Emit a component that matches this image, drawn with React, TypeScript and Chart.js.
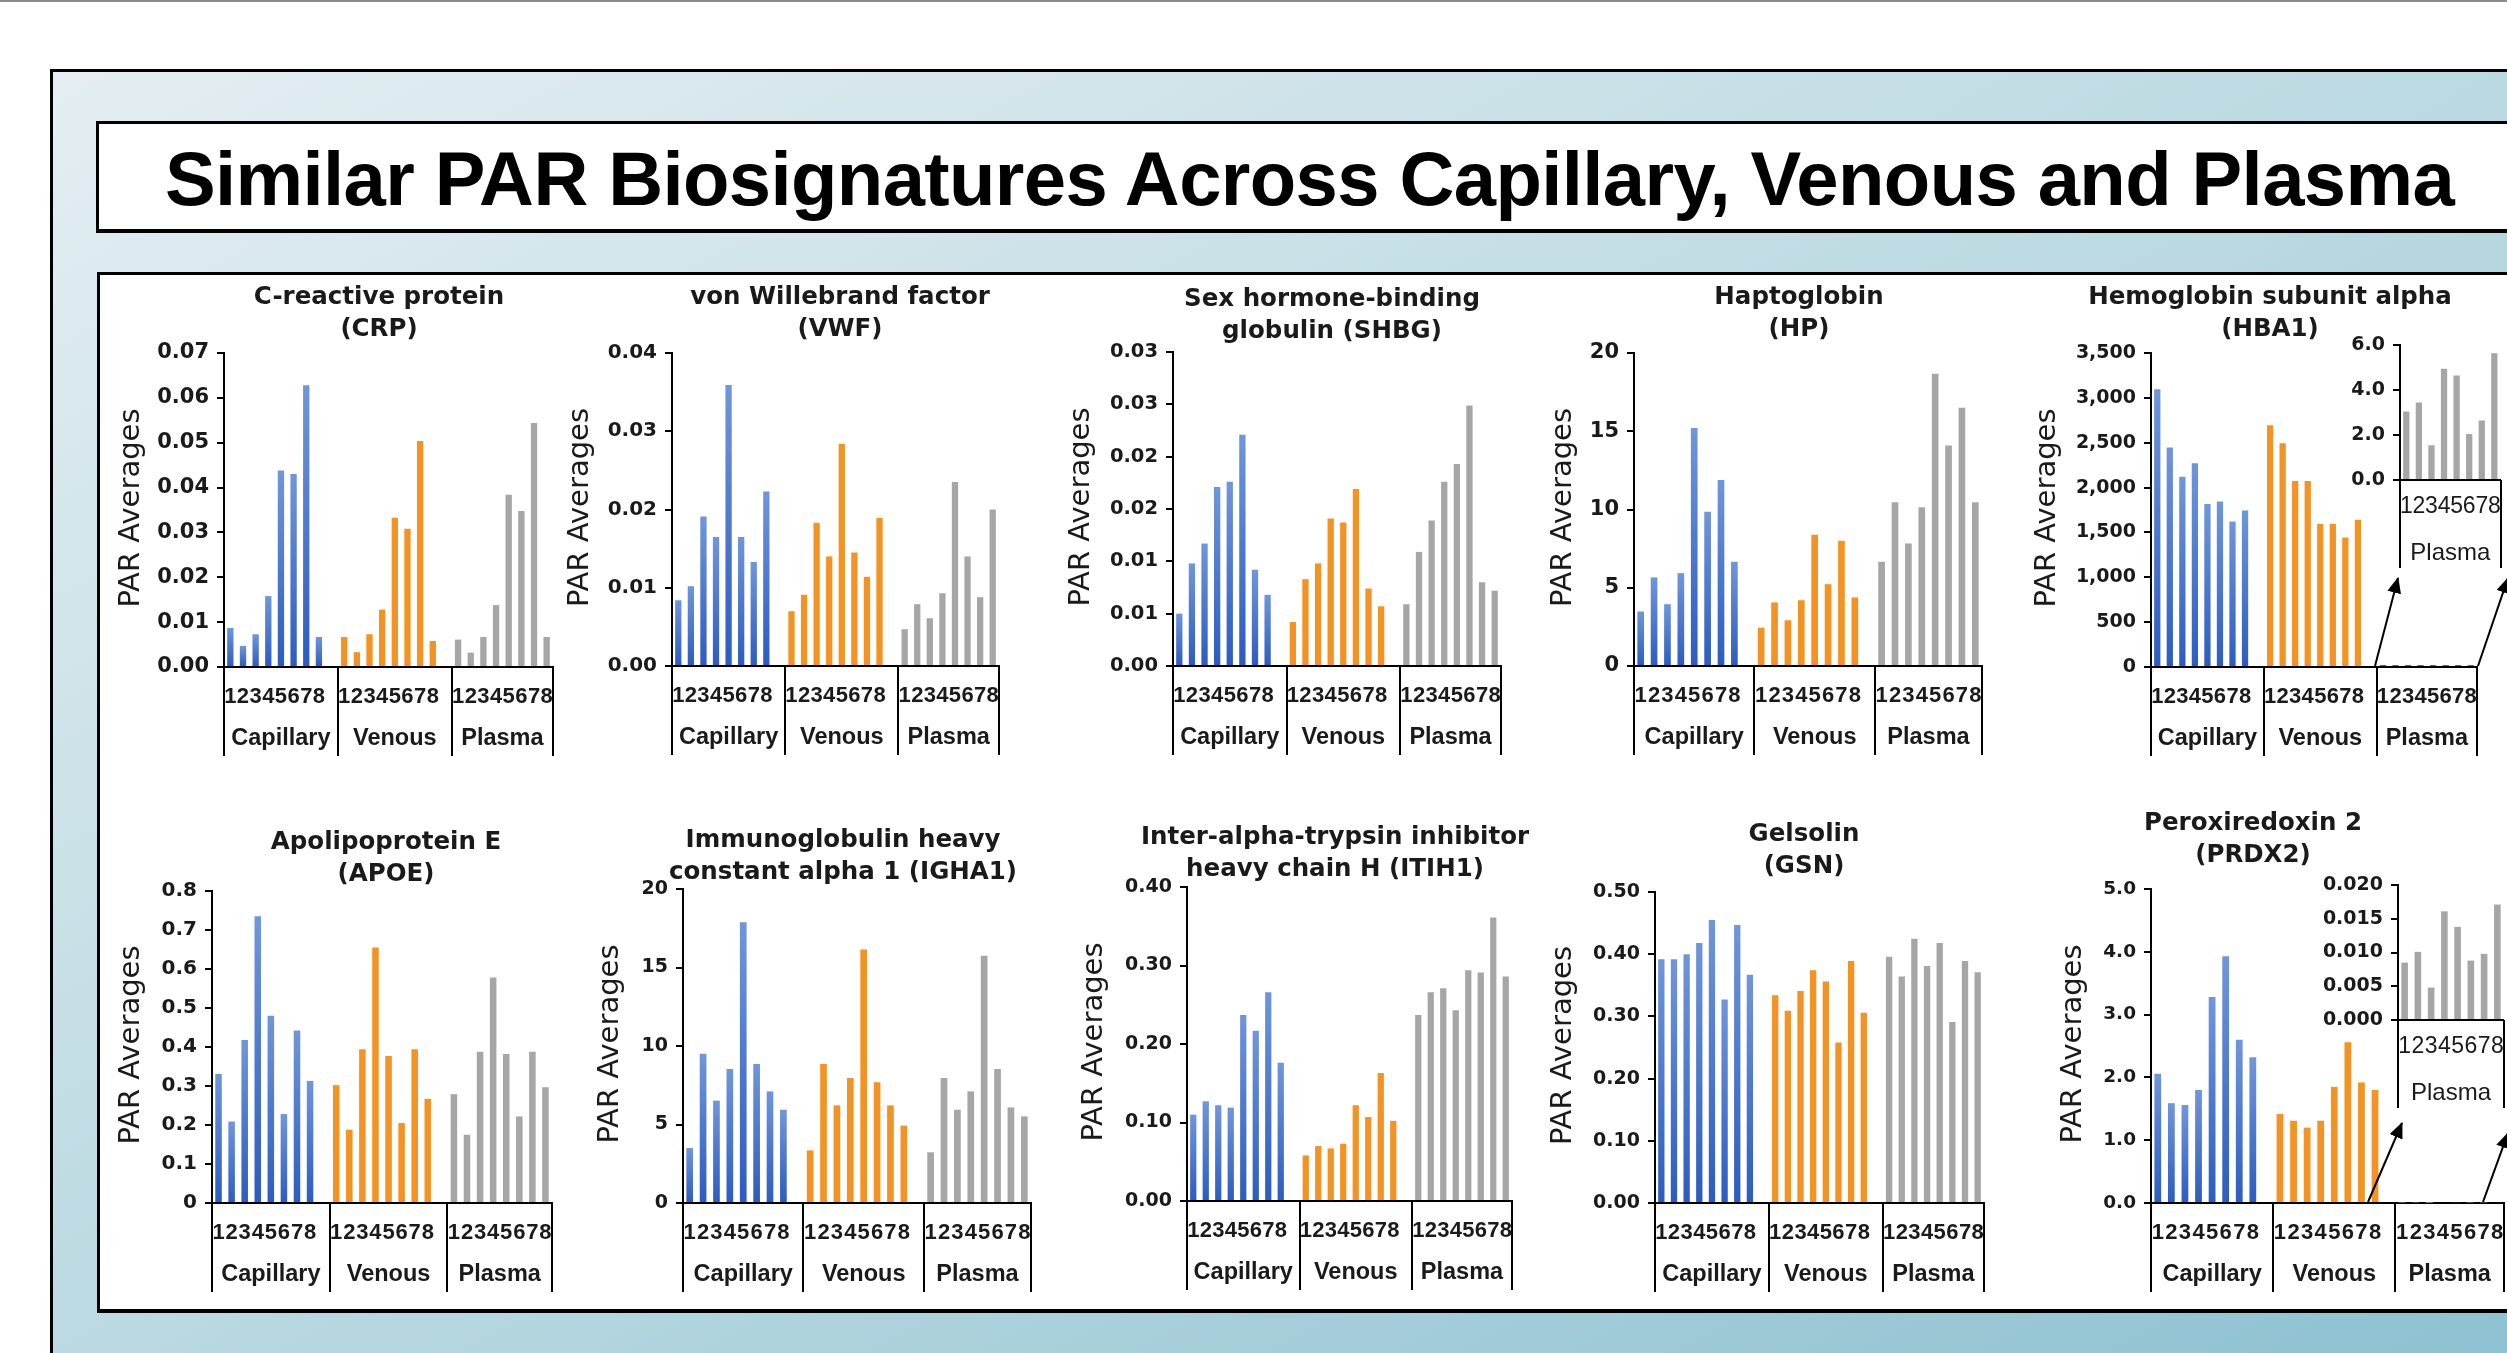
import React, { useEffect, useRef } from 'react';
import { Chart, registerables } from 'chart.js';

Chart.register(...registerables);

// ---------- data ----------
const GROUPS = ['Capillary', 'Venous', 'Plasma'];
const SAMPLES = ['1', '2', '3', '4', '5', '6', '7', '8'];

const CRP_CAPILLARY = [0.0087, 0.0047, 0.0073, 0.0158, 0.0438, 0.043, 0.0628, 0.0067];
const CRP_VENOUS = [0.0067, 0.0033, 0.0073, 0.0128, 0.0333, 0.0308, 0.0504, 0.0058];
const CRP_PLASMA = [0.0061, 0.0032, 0.0067, 0.0138, 0.0384, 0.0348, 0.0544, 0.0067];
const CRP_Y_TICKS = ['0.00', '0.01', '0.02', '0.03', '0.04', '0.05', '0.06', '0.07'];

const VWF_CAPILLARY = [0.0084, 0.0102, 0.0191, 0.0165, 0.0359, 0.0165, 0.0133, 0.0223];
const VWF_VENOUS = [0.007, 0.0091, 0.0183, 0.014, 0.0284, 0.0145, 0.0114, 0.0189];
const VWF_PLASMA = [0.0047, 0.0079, 0.0061, 0.0093, 0.0235, 0.014, 0.0088, 0.02];
const VWF_Y_TICKS = ['0.00', '0.01', '0.02', '0.03', '0.04'];

const SHBG_CAPILLARY = [0.005, 0.0098, 0.0117, 0.0171, 0.0176, 0.0221, 0.0092, 0.0068];
const SHBG_VENOUS = [0.0042, 0.0083, 0.0098, 0.0141, 0.0137, 0.0169, 0.0074, 0.0057];
const SHBG_PLASMA = [0.0059, 0.0109, 0.0139, 0.0176, 0.0193, 0.0249, 0.008, 0.0072];
const SHBG_Y_TICKS = ['0.00', '0.01', '0.01', '0.02', '0.02', '0.03', '0.03'];

const HP_CAPILLARY = [3.48, 5.66, 3.95, 5.93, 15.2, 9.86, 11.89, 6.66];
const HP_VENOUS = [2.45, 4.06, 2.92, 4.2, 8.39, 5.23, 8.0, 4.38];
const HP_PLASMA = [6.66, 10.46, 7.83, 10.14, 18.68, 14.09, 16.5, 10.46];
const HP_Y_TICKS = ['0', '5', '10', '15', '20'];

const HBA1_CAPILLARY = [3096, 2448, 2122, 2270, 1818, 1844, 1622, 1744];
const HBA1_VENOUS = [2696, 2493, 2074, 2074, 1593, 1593, 1444, 1641];
const HBA1_PLASMA = [3.05, 3.44, 1.55, 4.94, 4.65, 2.04, 2.64, 5.63];
const HBA1_Y_TICKS = ['0', '500', '1,000', '1,500', '2,000', '2,500', '3,000', '3,500'];
const HBA1_INSET_Y_TICKS = ['0.0', '2.0', '4.0', '6.0'];

const APOE_CAPILLARY = [0.331, 0.209, 0.418, 0.735, 0.48, 0.228, 0.442, 0.313];
const APOE_VENOUS = [0.302, 0.188, 0.394, 0.655, 0.377, 0.205, 0.394, 0.267];
const APOE_PLASMA = [0.279, 0.175, 0.388, 0.578, 0.382, 0.222, 0.388, 0.297];
const APOE_Y_TICKS = ['0', '0.1', '0.2', '0.3', '0.4', '0.5', '0.6', '0.7', '0.8'];

const IGHA1_CAPILLARY = [3.5, 9.51, 6.52, 8.54, 17.88, 8.85, 7.11, 5.94];
const IGHA1_VENOUS = [3.35, 8.85, 6.22, 7.96, 16.14, 7.69, 6.22, 4.93];
const IGHA1_PLASMA = [3.23, 7.96, 5.94, 7.11, 15.75, 8.54, 6.09, 5.52];
const IGHA1_Y_TICKS = ['0', '5', '10', '15', '20'];

const ITIH1_CAPILLARY = [0.11, 0.127, 0.122, 0.119, 0.237, 0.217, 0.266, 0.176];
const ITIH1_VENOUS = [0.058, 0.07, 0.067, 0.073, 0.122, 0.107, 0.163, 0.102];
const ITIH1_PLASMA = [0.237, 0.266, 0.271, 0.243, 0.294, 0.291, 0.361, 0.286];
const ITIH1_Y_TICKS = ['0.00', '0.10', '0.20', '0.30', '0.40'];

const GSN_CAPILLARY = [0.392, 0.392, 0.4, 0.418, 0.455, 0.327, 0.447, 0.367];
const GSN_VENOUS = [0.334, 0.309, 0.341, 0.374, 0.356, 0.258, 0.389, 0.306];
const GSN_PLASMA = [0.396, 0.364, 0.425, 0.381, 0.418, 0.291, 0.389, 0.371];
const GSN_Y_TICKS = ['0.00', '0.10', '0.20', '0.30', '0.40', '0.50'];

const PRDX2_CAPILLARY = [2.06, 1.59, 1.56, 1.8, 3.28, 3.93, 2.6, 2.32];
const PRDX2_VENOUS = [1.42, 1.31, 1.2, 1.31, 1.85, 2.56, 1.92, 1.8];
const PRDX2_PLASMA = [0.0085, 0.0101, 0.0048, 0.0161, 0.0138, 0.0088, 0.0098, 0.0171];
const PRDX2_Y_TICKS = ['0.0', '1.0', '2.0', '3.0', '4.0', '5.0'];
const PRDX2_INSET_Y_TICKS = ['0.000', '0.005', '0.010', '0.015', '0.020'];

const MAIN_TITLE = 'Similar PAR Biosignatures Across Capillary, Venous and Plasma';
const Y_TITLE = 'PAR Averages';

// ---------- styles ----------
const TEXT = '#1a1a1a';
const ORANGE = '#f39323';
const GRAY = '#a6a6a6';
const BLUE_TOP = '#7096da';
const BLUE_BOTTOM = '#2c5cbf';
const SANS = '"Liberation Sans", Arial, sans-serif';
const WIDE = '"DejaVu Sans", Verdana, sans-serif';

// category layout: 8 capillary + gap, 8 venous + gap, 8 plasma
const CATEGORIES = [...SAMPLES, '', ...SAMPLES, '', ...SAMPLES];
const GROUP_OFFSETS = [0, 9, 18];
const GROUP_SPANS: [number, number][] = [[0, 8], [9, 17], [18, 25]];

function place(values: number[], offset: number, total: number) {
  const out: (number | null)[] = new Array(total).fill(null);
  values.forEach((v, i) => { out[offset + i] = v; });
  return out;
}

function blueFill(ctx: any) {
  const chart = ctx.chart;
  const ys = chart.scales && chart.scales.y;
  if (!ys || !ctx.parsed || ctx.parsed.y == null) return BLUE_BOTTOM;
  const top = ys.getPixelForValue(ctx.parsed.y);
  const bot = ys.getPixelForValue(0);
  if (!isFinite(top) || !isFinite(bot) || Math.abs(bot - top) < 1) return BLUE_BOTTOM;
  const g = chart.ctx.createLinearGradient(0, bot, 0, top);
  g.addColorStop(0, BLUE_BOTTOM);
  g.addColorStop(1, BLUE_TOP);
  return g;
}

type PanelSpec = {
  key: string;
  title: string[];
  capillary: number[];
  venous: number[];
  plasma: number[];
  yMax: number;
  yStep: number;
  yTicks: string[];
  axisX: number; plotRight: number; topY: number; baseY: number;
  titleX: number; titleDy: number; yTitleDx: number; tickSize: number;
  plasmaMinBar?: number; plasmaColor?: string;
};

const ML = 175, MT = 100, MR = 40, MB = 100;

const PANELS: PanelSpec[] = [
  { key: 'crp', title: ['C-reactive protein', '(CRP)'], capillary: CRP_CAPILLARY, venous: CRP_VENOUS, plasma: CRP_PLASMA,
    yMax: 0.07, yStep: 0.01, yTicks: CRP_Y_TICKS, axisX: 224, plotRight: 553, topY: 353, baseY: 667,
    titleX: 379, titleDy: -23, yTitleDx: -93, tickSize: 21 },
  { key: 'vwf', title: ['von Willebrand factor', '(VWF)'], capillary: VWF_CAPILLARY, venous: VWF_VENOUS, plasma: VWF_PLASMA,
    yMax: 0.04, yStep: 0.01, yTicks: VWF_Y_TICKS, axisX: 672, plotRight: 999, topY: 353, baseY: 666,
    titleX: 840, titleDy: -23, yTitleDx: -92, tickSize: 20 },
  { key: 'shbg', title: ['Sex hormone-binding', 'globulin (SHBG)'], capillary: SHBG_CAPILLARY, venous: SHBG_VENOUS, plasma: SHBG_PLASMA,
    yMax: 0.03, yStep: 0.005, yTicks: SHBG_Y_TICKS, axisX: 1173, plotRight: 1501, topY: 352, baseY: 666,
    titleX: 1332, titleDy: -20, yTitleDx: -92, tickSize: 19.5 },
  { key: 'hp', title: ['Haptoglobin', '(HP)'], capillary: HP_CAPILLARY, venous: HP_VENOUS, plasma: HP_PLASMA,
    yMax: 20, yStep: 5, yTicks: HP_Y_TICKS, axisX: 1634, plotRight: 1982, topY: 353, baseY: 666,
    titleX: 1799, titleDy: -23, yTitleDx: -71, tickSize: 21 },
  { key: 'hba1', title: ['Hemoglobin subunit alpha', '(HBA1)'], capillary: HBA1_CAPILLARY, venous: HBA1_VENOUS, plasma: HBA1_PLASMA,
    yMax: 3500, yStep: 500, yTicks: HBA1_Y_TICKS, axisX: 2151, plotRight: 2477, topY: 353, baseY: 667,
    titleX: 2270, titleDy: -23, yTitleDx: -104, tickSize: 19, plasmaMinBar: 2, plasmaColor: '#3a66c4' },
  { key: 'apoe', title: ['Apolipoprotein E', '(APOE)'], capillary: APOE_CAPILLARY, venous: APOE_VENOUS, plasma: APOE_PLASMA,
    yMax: 0.8, yStep: 0.1, yTicks: APOE_Y_TICKS, axisX: 212, plotRight: 552, topY: 891, baseY: 1203,
    titleX: 386, titleDy: -16, yTitleDx: -81, tickSize: 20 },
  { key: 'igha1', title: ['Immunoglobulin heavy', 'constant alpha 1 (IGHA1)'], capillary: IGHA1_CAPILLARY, venous: IGHA1_VENOUS, plasma: IGHA1_PLASMA,
    yMax: 20, yStep: 5, yTicks: IGHA1_Y_TICKS, axisX: 683, plotRight: 1031, topY: 889, baseY: 1203,
    titleX: 843, titleDy: -16, yTitleDx: -73, tickSize: 19 },
  { key: 'itih1', title: ['Inter-alpha-trypsin inhibitor', 'heavy chain H (ITIH1)'], capillary: ITIH1_CAPILLARY, venous: ITIH1_VENOUS, plasma: ITIH1_PLASMA,
    yMax: 0.4, yStep: 0.1, yTicks: ITIH1_Y_TICKS, axisX: 1187, plotRight: 1512, topY: 887, baseY: 1201,
    titleX: 1335, titleDy: -17, yTitleDx: -93, tickSize: 19 },
  { key: 'gsn', title: ['Gelsolin', '(GSN)'], capillary: GSN_CAPILLARY, venous: GSN_VENOUS, plasma: GSN_PLASMA,
    yMax: 0.5, yStep: 0.1, yTicks: GSN_Y_TICKS, axisX: 1655, plotRight: 1984, topY: 892, baseY: 1203,
    titleX: 1804, titleDy: -25, yTitleDx: -92, tickSize: 19 },
  { key: 'prdx2', title: ['Peroxiredoxin 2', '(PRDX2)'], capillary: PRDX2_CAPILLARY, venous: PRDX2_VENOUS, plasma: PRDX2_PLASMA,
    yMax: 5, yStep: 1, yTicks: PRDX2_Y_TICKS, axisX: 2151, plotRight: 2504, topY: 889, baseY: 1203,
    titleX: 2253, titleDy: -33, yTitleDx: -78, tickSize: 18.5 },
];

type InsetSpec = {
  key: string; values: number[]; yMax: number; yStep: number; yTicks: string[];
  axisX: number; plotRight: number; topY: number; baseY: number;
};
const IML = 100, IMT = 20, IMR = 4, IMB = 100;

const INSETS: InsetSpec[] = [
  { key: 'hba1-inset', values: HBA1_PLASMA, yMax: 6, yStep: 2, yTicks: HBA1_INSET_Y_TICKS,
    axisX: 2400, plotRight: 2510, topY: 345, baseY: 480 },
  { key: 'prdx2-inset', values: PRDX2_PLASMA, yMax: 0.02, yStep: 0.005, yTicks: PRDX2_INSET_Y_TICKS,
    axisX: 2398, plotRight: 2513, topY: 885, baseY: 1020 },
];

// annotation arrows (page coordinates)
const ARROWS = [
  [2375, 666, 2398, 578], [2478, 666, 2508, 578],
  [2368, 1202, 2402, 1123], [2483, 1202, 2508, 1133],
];

// ---------- chart builders ----------
function decorPlugin(opts: {
  bounds: number[]; spans: [number, number][]; groups: string[]; groupDy: number; sepLen: number;
  groupFont: string; title?: string[]; titleX?: number; titleY?: number; yTitleDx?: number;
}) {
  return {
    id: 'decor',
    afterDraw(chart: any) {
      const { ctx, chartArea } = chart;
      const x = chart.scales.x;
      const base = x.top;
      ctx.save();
      ctx.strokeStyle = '#000';
      ctx.lineWidth = 2;
      opts.bounds.forEach((b) => {
        const px = Math.round(x.getPixelForValue(b));
        ctx.beginPath();
        ctx.moveTo(px, base);
        ctx.lineTo(px, base + opts.sepLen);
        ctx.stroke();
      });
      ctx.fillStyle = TEXT;
      ctx.textAlign = 'center';
      ctx.textBaseline = 'middle';
      ctx.font = opts.groupFont;
      opts.spans.forEach((s, i) => {
        const cx = (x.getPixelForValue(s[0] - 0.5) + x.getPixelForValue(s[1] + 0.5)) / 2;
        ctx.fillText(opts.groups[i], cx, base + opts.groupDy);
      });
      if (opts.title) {
        ctx.font = `bold 24.5px ${WIDE}`;
        ctx.fillText(opts.title[0], opts.titleX!, opts.titleY! - 32);
        ctx.fillText(opts.title[1], opts.titleX!, opts.titleY!);
      }
      if (opts.yTitleDx !== undefined) {
        ctx.font = `29px ${WIDE}`;
        ctx.translate(chartArea.left + opts.yTitleDx, (chartArea.top + chartArea.bottom) / 2 - 2);
        ctx.rotate(-Math.PI / 2);
        ctx.fillText(Y_TITLE, 0, 0);
      }
      ctx.restore();
    },
  };
}

function axisOptions(yMax: number, yStep: number, yTicks: string[], tickSize: number, xFont: any, xPad: number, left: number, bottom: number) {
  return {
    x: {
      type: 'category',
      offset: true,
      grid: { display: false, drawTicks: false },
      border: { display: true, color: '#000', width: 2 },
      ticks: { autoSkip: false, maxRotation: 0, minRotation: 0, padding: xPad, color: TEXT, font: xFont },
      afterFit: (s: any) => { s.height = bottom; },
    },
    y: {
      min: 0,
      max: yMax,
      ticks: {
        stepSize: yStep,
        padding: 8,
        color: TEXT,
        font: { family: WIDE, weight: 'bold', size: tickSize },
        callback: (_v: any, i: number) => yTicks[i],
      },
      grid: { drawOnChartArea: false, drawTicks: true, tickLength: 7, color: '#000', lineWidth: 2 },
      border: { display: true, color: '#000', width: 2 },
      afterFit: (s: any) => { s.width = left; },
    },
  };
}

function panelGeometry(spec: { axisX: number; plotRight: number; topY: number; baseY: number }, l: number, t: number, r: number, b: number) {
  return {
    left: spec.axisX - l,
    top: spec.topY - t,
    width: spec.plotRight - spec.axisX + l + r,
    height: spec.baseY - spec.topY + t + b,
  };
}

function panelConfig(spec: PanelSpec) {
  const geo = panelGeometry(spec, ML, MT, MR, MB);
  const total = CATEGORIES.length;
  return {
    type: 'bar',
    data: {
      labels: CATEGORIES,
      datasets: [
        { label: GROUPS[0], data: place(spec.capillary, GROUP_OFFSETS[0], total), backgroundColor: blueFill },
        { label: GROUPS[1], data: place(spec.venous, GROUP_OFFSETS[1], total), backgroundColor: ORANGE },
        { label: GROUPS[2], data: place(spec.plasma, GROUP_OFFSETS[2], total), backgroundColor: spec.plasmaColor || GRAY, minBarLength: spec.plasmaMinBar || 0 },
      ],
    },
    options: {
      responsive: false,
      animation: false,
      layout: { padding: { left: 0, top: MT, right: MR, bottom: 0 } },
      plugins: { legend: { display: false }, tooltip: { enabled: false }, title: { display: false } },
      datasets: { bar: { barPercentage: 0.5, categoryPercentage: 1, skipNull: true, borderWidth: 0 } },
      scales: axisOptions(spec.yMax, spec.yStep, spec.yTicks, spec.tickSize,
        { family: SANS, weight: 'bold', size: 22 }, 17, ML, MB),
    },
    plugins: [decorPlugin({
      bounds: [-0.5, 8.5, 17.5, 25.5], spans: GROUP_SPANS, groups: GROUPS, groupDy: 72, sepLen: 89,
      groupFont: `bold 23.5px ${SANS}`, title: spec.title, titleX: spec.titleX - geo.left,
      titleY: MT + spec.titleDy, yTitleDx: spec.yTitleDx,
    })],
  };
}

function insetConfig(spec: InsetSpec) {
  return {
    type: 'bar',
    data: {
      labels: SAMPLES,
      datasets: [{ label: GROUPS[2], data: spec.values, backgroundColor: GRAY }],
    },
    options: {
      responsive: false,
      animation: false,
      layout: { padding: { left: 0, top: IMT, right: IMR, bottom: 0 } },
      plugins: { legend: { display: false }, tooltip: { enabled: false }, title: { display: false } },
      datasets: { bar: { barPercentage: 0.5, categoryPercentage: 1, borderWidth: 0 } },
      scales: axisOptions(spec.yMax, spec.yStep, spec.yTicks, 19,
        { family: SANS, weight: 'normal', size: 23 }, 13, IML, IMB),
    },
    plugins: [decorPlugin({
      bounds: [-0.5, 7.5], spans: [[0, 7]], groups: [GROUPS[2]], groupDy: 73, sepLen: 88,
      groupFont: `24px ${SANS}`,
    })],
  };
}

function ChartCanvas({ config, geo }: { config: () => any; geo: { left: number; top: number; width: number; height: number } }) {
  const ref = useRef<HTMLCanvasElement | null>(null);
  useEffect(() => {
    const chart = new Chart(ref.current as HTMLCanvasElement, config());
    return () => chart.destroy();
  }, []);
  return (
    <canvas
      ref={ref}
      width={geo.width}
      height={geo.height}
      style={{ position: 'absolute', left: geo.left, top: geo.top, width: geo.width, height: geo.height }}
    />
  );
}

export default function App() {
  return (
    <div style={{ position: 'fixed', left: 0, top: 0, width: 2507, height: 1353, overflow: 'hidden', background: '#ffffff' }}>
      <div style={{ position: 'absolute', left: 0, top: 0, width: 2507, height: 2, background: '#8c8c8c' }} />
      <div style={{
        position: 'absolute', left: 50, top: 69, width: 2520, height: 1320,
        border: '3px solid #000', boxSizing: 'border-box',
        background: 'linear-gradient(to bottom right, #e4eef2 0%, #bad9e1 50%, #8cc0d0 100%)',
      }} />
      <div style={{
        position: 'absolute', left: 96, top: 121, width: 2500, height: 112,
        border: '3px solid #000', borderBottomWidth: 4, boxSizing: 'border-box', background: '#fff',
      }} />
      <div style={{
        position: 'absolute', left: 0, top: 141, width: 2619, textAlign: 'center', whiteSpace: 'nowrap',
        font: `bold 76px ${SANS}`, lineHeight: '76px', letterSpacing: '-0.6px', color: '#000',
      }}>{MAIN_TITLE}</div>
      <div style={{
        position: 'absolute', left: 97, top: 272, width: 2500, height: 1041,
        border: '3px solid #000', borderBottomWidth: 4, boxSizing: 'border-box', background: '#fff',
      }} />
      {PANELS.map((p) => (
        <ChartCanvas key={p.key} config={() => panelConfig(p)} geo={panelGeometry(p, ML, MT, MR, MB)} />
      ))}
      <svg style={{ position: 'absolute', left: 0, top: 0 }} width={2507} height={1353}>
        <defs>
          <marker id="arrowhead" markerUnits="userSpaceOnUse" markerWidth="16" markerHeight="14" refX="15" refY="7" orient="auto">
            <path d="M0,0 L16,7 L0,14 z" fill="#000" />
          </marker>
        </defs>
        {ARROWS.map((a, i) => (
          <line key={i} x1={a[0]} y1={a[1]} x2={a[2]} y2={a[3]} stroke="#000" strokeWidth={2} markerEnd="url(#arrowhead)" />
        ))}
      </svg>
      {INSETS.map((s) => (
        <ChartCanvas key={s.key} config={() => insetConfig(s)} geo={panelGeometry(s, IML, IMT, IMR, IMB)} />
      ))}
    </div>
  );
}
